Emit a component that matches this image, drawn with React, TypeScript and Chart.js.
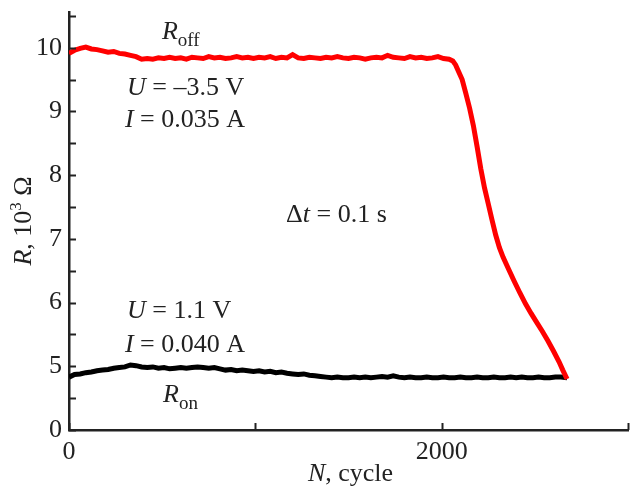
import { useEffect, useRef } from 'react';
import { Chart, registerables } from 'chart.js';

Chart.register(...registerables);

// ---- data ----
const offCycles = [
  0, 30, 60, 90, 120, 150, 180, 210, 240, 270, 300, 330, 360, 390, 420, 450, 480, 510, 540, 570,
  600, 630, 660, 690, 720, 750, 780, 810, 840, 870, 900, 930, 960, 990, 1020, 1050, 1080, 1110,
  1140, 1170, 1200, 1230, 1260, 1290, 1320, 1350, 1380, 1410, 1440, 1470, 1500, 1530, 1560, 1590,
  1620, 1650, 1680, 1710, 1740, 1770, 1800, 1830, 1860, 1890, 1920, 1950, 1980, 2010, 2040,
  2060, 2075, 2090, 2110, 2130, 2150, 2170, 2190, 2210, 2230, 2250, 2270, 2290, 2310, 2330, 2360,
  2390, 2420, 2450, 2480, 2510, 2540, 2570, 2600, 2630, 2650, 2673,
];
const offResistance = [
  9.91, 9.96, 9.99, 10.01, 9.98, 9.97, 9.95, 9.93, 9.94, 9.91, 9.9, 9.88, 9.86, 9.82, 9.83, 9.82,
  9.84, 9.83, 9.85, 9.83, 9.84, 9.82, 9.85, 9.84, 9.83, 9.86, 9.84, 9.85, 9.83, 9.84, 9.86, 9.84,
  9.85, 9.83, 9.85, 9.84, 9.86, 9.83, 9.85, 9.84, 9.89, 9.84, 9.83, 9.85, 9.84, 9.83, 9.85, 9.84,
  9.86, 9.84, 9.83, 9.85, 9.84, 9.82, 9.84, 9.85, 9.84, 9.88, 9.85, 9.84, 9.83, 9.86, 9.84, 9.85,
  9.83, 9.84, 9.86, 9.83, 9.82,
  9.79, 9.73, 9.63, 9.5, 9.28, 9.05, 8.78, 8.45, 8.1, 7.8, 7.55, 7.3, 7.06, 6.86, 6.71, 6.52,
  6.33, 6.15, 5.98, 5.83, 5.69, 5.55, 5.4, 5.24, 5.07, 4.94, 4.8,
];

const onCycles = [
  0, 30, 60, 90, 120, 150, 180, 210, 240, 270, 300, 330, 360, 390, 420, 450, 480, 510, 540, 570,
  600, 630, 660, 690, 720, 750, 780, 810, 840, 870, 900, 930, 960, 990, 1020, 1050, 1080, 1110,
  1140, 1170, 1200, 1230, 1260, 1290, 1320, 1350, 1380, 1410, 1440, 1470, 1500, 1530, 1560, 1590,
  1620, 1650, 1680, 1710, 1740, 1770, 1800, 1830, 1860, 1890, 1920, 1950, 1980, 2010, 2040, 2070,
  2100, 2130, 2160, 2190, 2220, 2250, 2280, 2310, 2340, 2370, 2400, 2430, 2460, 2490, 2520, 2550,
  2580, 2610, 2640, 2673,
];
const onResistance = [
  4.83, 4.87, 4.88, 4.9, 4.91, 4.93, 4.94, 4.95, 4.97, 4.98, 4.99, 5.02, 5.01, 4.99, 4.98, 4.99,
  4.97, 4.98, 4.96, 4.97, 4.98, 4.97, 4.98, 4.99, 4.98, 4.97, 4.98, 4.96, 4.94, 4.95, 4.93, 4.94,
  4.93, 4.92, 4.93, 4.91, 4.92, 4.9, 4.91, 4.89, 4.88, 4.87, 4.88, 4.86, 4.85, 4.84, 4.83, 4.82,
  4.83, 4.82, 4.82, 4.83, 4.82, 4.83, 4.82, 4.83, 4.84, 4.83, 4.85, 4.83, 4.82, 4.83, 4.82, 4.82,
  4.83, 4.82, 4.82, 4.83, 4.82, 4.82, 4.83, 4.82, 4.82, 4.83, 4.82, 4.82, 4.83, 4.82, 4.82, 4.83,
  4.82, 4.83, 4.82, 4.82, 4.83, 4.82, 4.82, 4.83, 4.83, 4.82,
];

// axis ticks (the R axis is broken: its lowest tick stands for 0)
const xTickValues = [0, 1000, 2000, 3000];
const xTickLabels = ['0', '', '2000', ''];
const yTickValues = [4, 4.5, 5, 5.5, 6, 6.5, 7, 7.5, 8, 8.5, 9, 9.5, 10, 10.5];
const yTickLabels = ['0', '', '5', '', '6', '', '7', '', '8', '', '9', '', '10', ''];

// ---- text notes ----
type Seg = { t: string; i?: boolean; sub?: boolean; sup?: boolean };
const notes: { segs: Seg[]; n: number; r: number }[] = [
  { segs: [{ t: 'R', i: true }, { t: 'off', sub: true }], n: 499, r: 10.14 },
  { segs: [{ t: 'U', i: true }, { t: ' = –3.5 V' }], n: 311, r: 9.26 },
  { segs: [{ t: 'I', i: true }, { t: ' = 0.035 A' }], n: 300, r: 8.76 },
  { segs: [{ t: 'Δ' }, { t: 't', i: true }, { t: ' = 0.1 s' }], n: 1165, r: 7.27 },
  { segs: [{ t: 'U', i: true }, { t: ' = 1.1 V' }], n: 311, r: 5.76 },
  { segs: [{ t: 'I', i: true }, { t: ' = 0.040 A' }], n: 300, r: 5.22 },
  { segs: [{ t: 'R', i: true }, { t: 'on', sub: true }], n: 505, r: 4.44 },
];
const xTitle: Seg[] = [{ t: 'N', i: true }, { t: ', cycle' }];
const yTitle: Seg[] = [{ t: 'R', i: true }, { t: ', 10' }, { t: '3', sup: true }, { t: ' Ω' }];

const FAMILY = '"Liberation Serif", "Times New Roman", serif';
const INK = '#222';
const FS = 26;

function segFont(s: Seg) {
  const size = s.sub ? 19 : s.sup ? 17 : FS;
  return `${s.i ? 'italic ' : ''}${size}px ${FAMILY}`;
}
function measureSegs(ctx: CanvasRenderingContext2D, segs: Seg[]) {
  let w = 0;
  for (const s of segs) {
    ctx.font = segFont(s);
    w += ctx.measureText(s.t).width;
  }
  return w;
}
function drawSegs(ctx: CanvasRenderingContext2D, segs: Seg[], x: number, y: number) {
  let cx = x;
  ctx.textBaseline = 'alphabetic';
  ctx.textAlign = 'left';
  for (const s of segs) {
    ctx.font = segFont(s);
    const dy = s.sub ? 7 : s.sup ? -10 : 0;
    ctx.fillText(s.t, cx, y + dy);
    cx += ctx.measureText(s.t).width;
  }
}

const decorPlugin = {
  id: 'decor',
  afterDraw(chart: any) {
    const { ctx, scales, chartArea } = chart;
    const xs = scales.x;
    const ys = scales.y;
    ctx.save();
    ctx.strokeStyle = INK;
    ctx.lineWidth = 2;
    // inward tick marks
    const TL = 7;
    for (const v of xTickValues) {
      const px = Math.round(xs.getPixelForValue(v)) + 0.5;
      ctx.beginPath();
      ctx.moveTo(px, chartArea.bottom);
      ctx.lineTo(px, chartArea.bottom - TL);
      ctx.stroke();
    }
    for (const v of yTickValues) {
      const py = Math.round(ys.getPixelForValue(v)) + 0.5;
      ctx.beginPath();
      ctx.moveTo(chartArea.left, py);
      ctx.lineTo(chartArea.left + TL, py);
      ctx.stroke();
    }
    // notes
    ctx.fillStyle = INK;
    for (const n of notes) {
      drawSegs(ctx, n.segs, xs.getPixelForValue(n.n), ys.getPixelForValue(n.r));
    }
    // axis titles
    const xw = measureSegs(ctx, xTitle);
    drawSegs(ctx, xTitle, (chartArea.left + chartArea.right) / 2 - xw / 2 + 2, 481);
    const yw = measureSegs(ctx, yTitle);
    ctx.translate(31, (chartArea.top + chartArea.bottom) / 2);
    ctx.rotate(-Math.PI / 2);
    drawSegs(ctx, yTitle, -yw / 2, 0);
    ctx.restore();
  },
};

export default function App() {
  const ref = useRef<HTMLCanvasElement>(null);
  useEffect(() => {
    if (!ref.current) return;
    const chart = new Chart(ref.current, {
      type: 'line',
      data: {
        datasets: [
          {
            label: 'R_off',
            data: offCycles.map((n, i) => ({ x: n, y: offResistance[i] })),
            borderColor: '#ff0000',
            borderWidth: 5,
            pointRadius: 0,
            tension: 0,
            fill: false,
          },
          {
            label: 'R_on',
            data: onCycles.map((n, i) => ({ x: n, y: onResistance[i] })),
            borderColor: '#000000',
            borderWidth: 5,
            pointRadius: 0,
            tension: 0,
            fill: false,
          },
        ],
      },
      options: {
        animation: false,
        responsive: true,
        maintainAspectRatio: false,
        layout: { padding: { top: 12, right: 2, left: 0, bottom: 0 } },
        plugins: { legend: { display: false }, tooltip: { enabled: false }, title: { display: false } },
        scales: {
          x: {
            type: 'linear',
            min: 0,
            max: 3000,
            afterBuildTicks: (s: any) => {
              s.ticks = xTickValues.map((v) => ({ value: v }));
            },
            afterFit: (s: any) => {
              s.height = 62;
              s.paddingLeft = 0;
              s.paddingRight = 0;
            },
            ticks: {
              autoSkip: false,
              maxRotation: 0,
              padding: 7,
              color: INK,
              font: { family: FAMILY, size: FS },
              callback: (v: any) => xTickLabels[xTickValues.indexOf(Number(v))] ?? '',
            },
            grid: { display: true, drawOnChartArea: false, drawTicks: false },
            border: { display: true, color: INK, width: 2.5 },
          },
          y: {
            type: 'linear',
            min: 4,
            max: 10.56,
            afterBuildTicks: (s: any) => {
              s.ticks = yTickValues.map((v) => ({ value: v }));
            },
            afterFit: (s: any) => {
              s.width = 69;
              s.paddingTop = 0;
              s.paddingBottom = 0;
            },
            ticks: {
              autoSkip: false,
              padding: 7,
              color: INK,
              font: { family: FAMILY, size: FS },
              callback: (v: any) => yTickLabels[yTickValues.indexOf(Number(v))] ?? '',
            },
            grid: { display: true, drawOnChartArea: false, drawTicks: false },
            border: { display: true, color: INK, width: 2.5 },
          },
        },
      },
      plugins: [decorPlugin],
    } as any);
    return () => chart.destroy();
  }, []);
  return (
    <div style={{ position: 'fixed', left: 0, top: 0, width: 630, height: 492, background: '#fff' }}>
      <canvas ref={ref} />
    </div>
  );
}
